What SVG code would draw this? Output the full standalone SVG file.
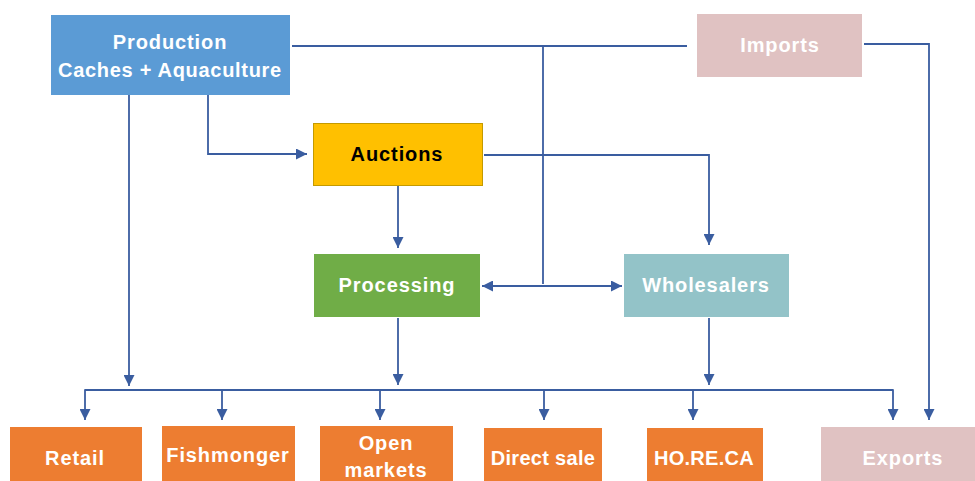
<svg xmlns="http://www.w3.org/2000/svg" width="975" height="481" viewBox="0 0 975 481">
<style>
.t{font-family:"Liberation Sans",Arial,sans-serif;font-weight:bold;font-size:20px;text-anchor:middle;fill:#fff;letter-spacing:0.9px}
.c{fill:none;stroke:#3A5DA0;stroke-width:1.8}
</style>
<defs>
<marker id="a" viewBox="0 0 11 11" refX="11" refY="5.5" markerWidth="11" markerHeight="11" markerUnits="userSpaceOnUse" orient="auto-start-reverse">
<path d="M0,0 L11,5.5 L0,11 Z" fill="#3A5DA0"/>
</marker>
</defs>
<rect width="975" height="481" fill="#fff"/>
<g id="connectors">
<path class="c" d="M292,46 H687"/>
<path class="c" d="M543,46 V284"/>
<path class="c" d="M482,286 H622" marker-start="url(#a)" marker-end="url(#a)"/>
<path class="c" d="M864,44 H929 V420" marker-end="url(#a)"/>
<path class="c" d="M484,155 H709 V245" marker-end="url(#a)"/>
<path class="c" d="M129,95 V386" marker-end="url(#a)"/>
<path class="c" d="M208,95 V154 H307" marker-end="url(#a)"/>
<path class="c" d="M398,186 V248" marker-end="url(#a)"/>
<path class="c" d="M398,318 V385" marker-end="url(#a)"/>
<path class="c" d="M709,318 V385" marker-end="url(#a)"/>
<path class="c" d="M85,390 H893"/>
<path class="c" d="M85,389.2 V420" marker-end="url(#a)"/>
<path class="c" d="M222,390 V420" marker-end="url(#a)"/>
<path class="c" d="M380,390 V420" marker-end="url(#a)"/>
<path class="c" d="M544,390 V420" marker-end="url(#a)"/>
<path class="c" d="M693,390 V420" marker-end="url(#a)"/>
<path class="c" d="M893,389.2 V420" marker-end="url(#a)"/>
</g>
<g id="production">
<rect x="51" y="15" width="239" height="80" fill="#5B9BD5"/>
<text class="t" x="170" y="49">Production</text>
<text class="t" x="170" y="77" style="letter-spacing:0.7px">Caches + Aquaculture</text>
</g>
<g id="imports">
<rect x="697" y="14" width="165" height="63" fill="#E0C2C2"/>
<text class="t" x="780" y="52">Imports</text>
</g>
<g id="auctions">
<rect x="313.5" y="123.5" width="169" height="62" fill="#FFC000" stroke="#C49A00" stroke-width="1"/>
<text class="t" x="397" y="161" style="fill:#000">Auctions</text>
</g>
<g id="processing">
<rect x="314" y="254" width="166" height="63" fill="#70AD47"/>
<text class="t" x="397" y="292">Processing</text>
</g>
<g id="wholesalers">
<rect x="624" y="254" width="165" height="63" fill="#93C3C8"/>
<text class="t" x="706" y="292">Wholesalers</text>
</g>
<g id="retail">
<rect x="10" y="427" width="132" height="54" fill="#ED7D31"/>
<text class="t" x="75" y="465">Retail</text>
</g>
<g id="fishmonger">
<rect x="162" y="426" width="133" height="55" fill="#ED7D31"/>
<text class="t" x="228" y="462">Fishmonger</text>
</g>
<g id="open-markets">
<rect x="320" y="426" width="133" height="55" fill="#ED7D31"/>
<text class="t" x="386" y="450">Open</text>
<text class="t" x="386" y="477">markets</text>
</g>
<g id="direct-sale">
<rect x="484" y="428" width="118" height="53" fill="#ED7D31"/>
<text class="t" x="543" y="465" style="letter-spacing:0.3px">Direct sale</text>
</g>
<g id="horeca">
<rect x="647" y="428" width="116" height="53" fill="#ED7D31"/>
<text class="t" x="704" y="465" style="letter-spacing:0.3px">HO.RE.CA</text>
</g>
<g id="exports">
<rect x="821" y="427" width="154" height="54" fill="#E0C2C2"/>
<text class="t" x="903" y="465">Exports</text>
</g>
</svg>
